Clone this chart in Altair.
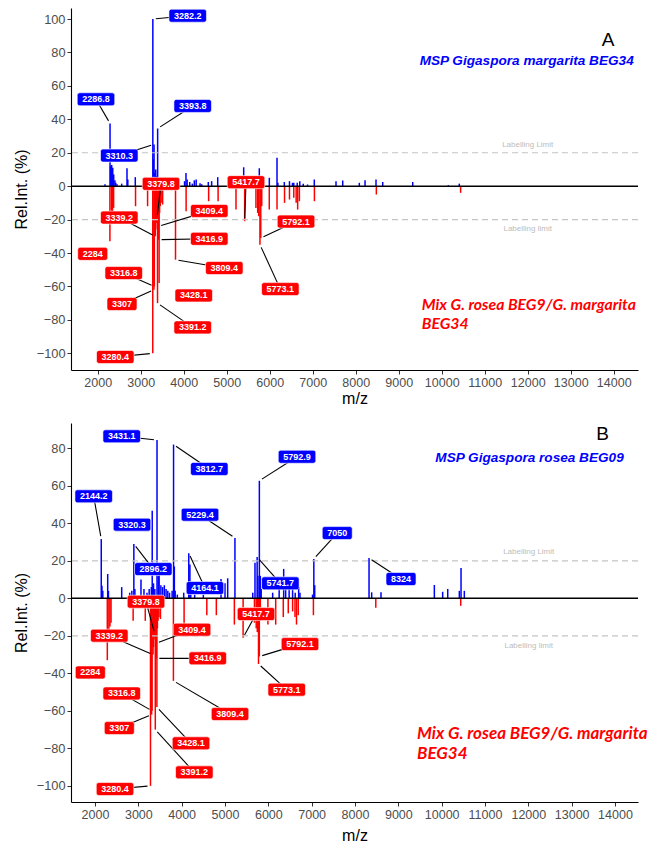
import altair as alt
import pandas as pd
import math

# ---------------- data ----------------
# Mix spectrum (red, drawn downward) - same sample in both panels
mix_mz = [2284, 2320, 2345, 2370, 2880, 3160, 3280.4, 3307, 3316.8, 3339.2, 3350, 3360, 3370, 3379.8, 3391.2, 3400,
          3409.4, 3416.9, 3428.1, 3440, 3455, 3475, 3510, 3809.4, 4056, 4580, 4800, 5216, 5417.7, 5680, 5720, 5745,
          5773.1, 5792.1, 5815, 5990, 6170, 6345, 6460, 6560, 6615, 6650, 6690, 7040, 8480, 10440]
mix_int = [-33, -17, -15, -13, -12, -12, -100, -62, -60, -30, -26, -22, -20, -19, -70, -21,
           -24, -32, -58, -16, -12, -10, -11, -44, -15, -9, -9, -14, -21, -13, -16, -18,
           -35, -31, -12, -14, -14, -10, -8, -7, -10, -14, -9, -9, -5, -4]

# MSP Gigaspora margarita BEG34 (panel A, blue)
marg_mz = [2170, 2286.8, 2300, 2325, 2350, 2372, 2400, 2420, 2450, 2558, 2681, 2700, 2874, 3282.2, 3295, 3310.3,
           3330, 3350, 3370, 3393.8, 3410, 3430, 4020, 4053, 4080, 4140, 4200, 4247, 4290, 4380, 4420, 4572, 4650,
           4791, 5395, 5758, 5780, 5991, 6170, 6190, 6340, 6460, 6530, 6560, 6640, 6700, 6780, 6880, 7037, 7542,
           7698, 8084, 8217, 8472, 8628, 9326, 10154, 10409]
marg_int = [1.2, 37.5, 12, 12.7, 11, 7, 3.5, 2, 1.2, 1.5, 10.7, 4, 5.4, 100, 16, 25,
            8, 10, 6, 34.5, 5, 3, 3, 7.8, 4, 2.5, 1.5, 3.5, 4, 1.8, 1.2, 2.5, 3,
            5.4, 11.3, 10.7, 3, 5, 17, 2, 2.5, 3, 2, 2, 2, 3, 1.5, 1, 4, 3,
            3.4, 2, 3.6, 4, 2.5, 2.5, 0.6, 1.5]

# MSP Gigaspora rosea BEG09 (panel B, blue)
rosea_mz = [2144.2, 2160, 2180, 2293, 2310, 2616, 2800, 2850, 2896.2, 2920, 3061, 3130, 3200, 3250, 3300, 3320.3,
            3350, 3380, 3431.1, 3460, 3480, 3520, 3560, 3600, 3640, 3680, 3720, 3780, 3812.7, 3831, 3850, 3900,
            4047, 4164.1, 4190, 4210, 4300, 4500, 4908, 5000, 5062, 5229.4, 5640, 5692, 5741.7, 5760, 5792.9, 5815,
            5835, 6100, 6250, 6354, 6400, 6480, 6560, 6620, 6700, 6730, 7020, 7050, 7070, 8324, 8385, 8600, 9831,
            10023, 10140, 10408, 10447, 10523]
rosea_int = [31.6, 6.7, 4, 13, 4, 6, 3, 4, 29, 5, 10, 5, 3, 5, 6, 46.7,
             8, 5, 84.4, 12, 17, 7, 6, 7, 5, 4, 3, 4, 82, 17, 4, 2,
             3, 24, 18, 4, 2, 2, 10.3, 8, 10.7, 32.2, 3, 19, 22, 12, 62.7, 12,
             5, 3, 5, 15.7, 5, 8, 5, 3, 6, 3, 2, 21, 7, 21.5, 3.2, 3.2, 7.1,
             3.5, 5, 4, 16.2, 4]

# peak labels (text, series, label position in data units, leader line flag)
a_lab_text = ["2286.8", "3282.2", "3393.8", "3310.3", "3379.8", "5417.7", "3339.2", "3409.4", "3416.9", "2284",
              "3809.4", "5792.1", "3316.8", "3307", "3428.1", "5773.1", "3391.2", "3280.4"]
a_lab_ser = ["b"] * 4 + ["r"] * 14
a_lab_x = [1960, 4093, 4209, 2502, 3472, 5449, 2502, 4595, 4595, 1884, 4944, 6612, 2605, 2565, 4233, 6247, 4209, 2409]
a_lab_y = [52, 102, 48, 18.3, 1.4, 2.4, -18.8, -14.8, -31.5, -40.5, -49, -21.2, -52, -70.5, -65.4, -61.6, -84.5, -102.2]
a_lab_line = [1, 1, 1, 1, 1, 1, 1, 1, 1, 0, 1, 1, 1, 1, 0, 1, 1, 1]

b_lab_text = ["3431.1", "3812.7", "5792.9", "2144.2", "3320.3", "5229.4", "7050", "8324", "2896.2", "4164.1", "5741.7",
              "3379.8", "5417.7", "3339.2", "3409.4", "3416.9", "2284", "5792.1", "5773.1", "3809.4", "3316.8",
              "3307", "3428.1", "3391.2", "3280.4"]
b_lab_ser = ["b"] * 11 + ["r"] * 14
b_lab_x = [2616, 4638, 6662, 1970, 2854, 4423, 7590, 9062, 3346, 4538, 6277, 3177, 5716, 2330, 4239, 4601, 1892,
           6731, 6424, 5116, 2616, 2561, 4216, 4292, 2462]
b_lab_y = [86.4, 69, 75.5, 54.4, 39.3, 44.6, 34.8, 10.3, 15.6, 5.5, 8, -1.8, -8.4, -19.9, -16.7, -32, -39.5,
           -24.4, -48.7, -61.7, -50.7, -69.2, -77.3, -92.8, -101.7]
b_lab_line = [1, 1, 1, 1, 0, 1, 1, 1, 1, 1, 1, 1, 1, 1, 1, 1, 0, 1, 1, 1, 1, 1, 1, 1, 1]

x_ticks = list(range(2000, 15000, 1000))
a_y_ticks = list(range(-100, 101, 20))
b_y_ticks = list(range(-100, 81, 20))

BLUE = "#0000FF"
RED = "#FF0000"
FONT = "Liberation Sans"


def one(**kw):
    return pd.DataFrame([kw])


def panel(blue_mz, blue_int, lab_text, lab_ser, lab_x, lab_y, lab_line, xdom, ydom, W, H, yticks,
          letter, letter_pos, msp, msp_pos, lim_top, lim_bot, mix_pos, mix_size, mix_gap, title_y):
    ppx = W / (xdom[1] - xdom[0])
    ppy = H / (ydom[1] - ydom[0])
    spec = pd.DataFrame({
        "mz": blue_mz + mix_mz,
        "val": blue_int + mix_int,
        "s": ["b"] * len(blue_mz) + ["r"] * len(mix_mz),
    })
    lookup = {("b", m): v for m, v in zip(blue_mz, blue_int)}
    lookup.update({("r", m): v for m, v in zip(mix_mz, mix_int)})

    rows = []
    for t, s, lx, ly, ln in zip(lab_text, lab_ser, lab_x, lab_y, lab_line):
        pm = float(t)
        pv = lookup[(s, pm)]
        nd = sum(c.isdigit() for c in t)
        ndot = t.count(".")
        hw = (9 * (0.556 * nd + 0.278 * ndot)) / 2 + 5
        hh = 6.5
        dx = (lx - pm) * ppx
        dy = (ly - pv) * ppy
        d = math.hypot(dx, dy) or 1
        gap = 3.0
        rows.append(dict(t=t, s=s, lx=lx, ly=ly, line=ln,
                         x1=lx - hw / ppx, x2=lx + hw / ppx, y1=ly - hh / ppy, y2=ly + hh / ppy,
                         sx=pm + dx / d * gap / ppx, sy=pv + dy / d * gap / ppy))
    labs = pd.DataFrame(rows)
    lines = labs[labs["line"] == 1]

    xs = alt.Scale(domain=list(xdom), nice=False, zero=False)
    ys = alt.Scale(domain=list(ydom), nice=False, zero=False)
    cs = alt.Scale(domain=["b", "r"], range=[BLUE, RED])

    xaxis = alt.Axis(values=x_ticks, format="d", title="m/z", grid=False, labelFontSize=12.5,
                     labelColor="#4d4d4d", labelFont=FONT, tickColor="#333333", tickSize=4,
                     domainColor="black", domainWidth=1.1, labelPadding=2, titleFont=FONT,
                     titleFontSize=16, titleFontWeight="normal", titleColor="black",
                     titleY=title_y, titleBaseline="middle", labelFlush=False)
    yaxis = alt.Axis(values=yticks, format="d", title="Rel.Int. (%)", grid=False, labelFontSize=12.8,
                     labelColor="#4d4d4d", labelFont=FONT, tickColor="#333333", tickSize=4,
                     domainColor="black", domainWidth=1.1, labelPadding=2, titleFont=FONT,
                     titleFontSize=16, titleFontWeight="normal", titleColor="black",
                     titleX=-50, titleBaseline="middle")

    def X(f):
        return alt.X(f, type="quantitative", scale=xs, axis=xaxis)

    def Y(f):
        return alt.Y(f, type="quantitative", scale=ys, axis=yaxis)

    bars = alt.Chart(spec).mark_rule(strokeWidth=1.5).encode(
        x=X("mz"), y=Y("val"), y2=alt.Y2(datum=0),
        color=alt.Color("s:N", scale=cs, legend=None),
    )
    zero = alt.Chart(one(v=0)).mark_rule(color="black", strokeWidth=1.5).encode(y=Y("v"))
    dash = alt.Chart(pd.DataFrame({"v": [20, -20]})).mark_rule(
        color="#c4c4c4", strokeWidth=1.2, strokeDash=[6, 4]).encode(y=Y("v"))
    segs = alt.Chart(lines).mark_rule(color="black", strokeWidth=1.1).encode(
        x=X("sx"), y=Y("sy"), x2="lx:Q", y2="ly:Q")
    boxes = alt.Chart(labs).mark_rect(cornerRadius=2.5, stroke="white", strokeWidth=0.6).encode(
        x=X("x1"), x2="x2:Q", y=Y("y1"), y2="y2:Q",
        color=alt.Color("s:N", scale=cs, legend=None))
    ltext = alt.Chart(labs).mark_text(color="white", font=FONT, fontWeight="bold", fontSize=9,
                                      baseline="middle", align="center").encode(
        x=X("lx"), y=Y("ly"), text="t:N")

    def txt(s, pos, **kw):
        return alt.Chart(one(a=0)).mark_text(baseline="middle", **kw).encode(
            x=alt.value(pos[0]), y=alt.value(pos[1]), text=alt.value(s))

    ann = [
        txt(letter, letter_pos, font=FONT, fontSize=19, color="black", align="center"),
        txt(msp, msp_pos, font=FONT, fontSize=13.6, fontWeight="bold", fontStyle="italic", color=BLUE,
            align="right"),
        txt("Labelling Limit", lim_top, font=FONT, fontSize=8, color="#bdbdbd", align="center"),
        txt("Labelling limit", lim_bot, font=FONT, fontSize=8, color="#bdbdbd", align="center"),
        txt("Mix G. rosea BEG9/G. margarita", mix_pos, font="Lato", fontSize=mix_size, fontWeight="bold",
            fontStyle="italic", color=RED, align="left"),
        txt("BEG34", (mix_pos[0], mix_pos[1] + mix_gap), font="Lato", fontSize=mix_size,
            fontWeight="bold", fontStyle="italic", color=RED, align="left"),
    ]
    return alt.layer(bars, dash, zero, segs, boxes, ltext, *ann).properties(width=W, height=H)


W = 567
A = panel(marg_mz, marg_int, a_lab_text, a_lab_ser, a_lab_x, a_lab_y, a_lab_line,
          (1379, 14565), (-110, 106.6), W, 362, a_y_ticks,
          "A", (537, 32), "MSP Gigaspora margarita BEG34", (562.7, 53),
          (456.7, 137), (456.7, 221), (350.7, 297), 15.8, 19, 28)
B = panel(rosea_mz, rosea_int, b_lab_text, b_lab_ser, b_lab_x, b_lab_y, b_lab_line,
          (1446, 14531), (-108.6, 93.5), W, 379, b_y_ticks,
          "B", (531.7, 11), "MSP Gigaspora rosea BEG09", (552.7, 35.3),
          (457.7, 128.7), (457.7, 222.7), (346, 311), 17, 20, 33)

chart = alt.vconcat(A, B, spacing=17).properties(
    padding={"top": 0, "left": 5, "right": 5, "bottom": 0}
).configure_view(stroke=None)

chart.save("out.html", embed_options={"renderer": "svg", "actions": False})
